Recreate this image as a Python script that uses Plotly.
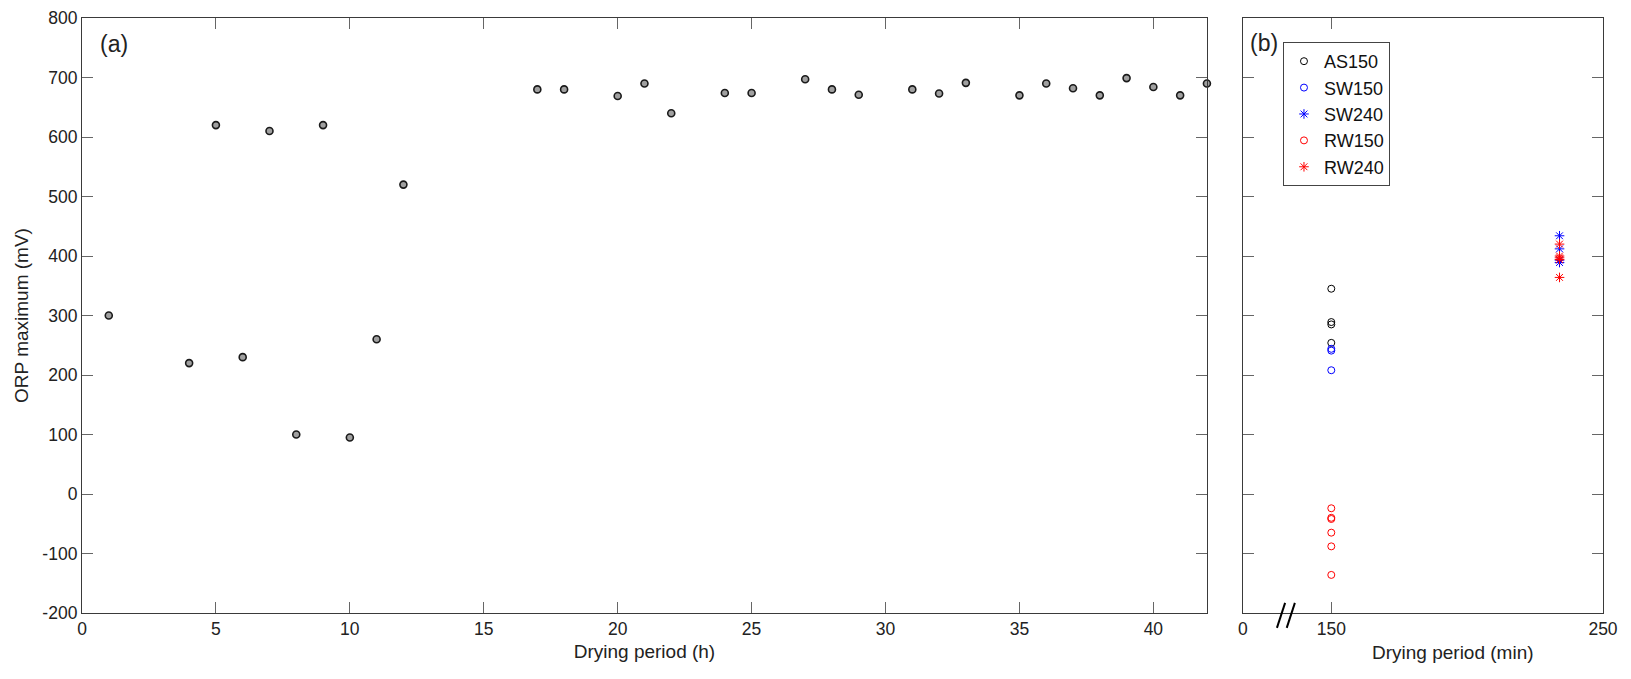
import plotly.graph_objects as go

# (a) ORP maximum against drying period in hours
hours = [1, 4, 5, 6, 7, 8, 9, 10, 11, 12, 17, 18, 20, 21, 22, 24, 25, 27, 28, 29,
         31, 32, 33, 35, 36, 37, 38, 39, 40, 41, 42]
orp_max = [300, 220, 620, 230, 610, 100, 620, 95, 260, 520, 680, 680, 669, 690, 640,
           674, 674, 697, 680, 671, 680, 673, 691, 670, 690, 682, 670, 699, 684, 670, 690]

# (b) ORP maximum for the short drying periods (min)
x_150 = 150
x_240 = 234   # plotted position
as150 = [345, 289, 285, 254]
sw150 = [244, 241, 208]
sw240 = [434, 412, 393, 389]
rw150 = [-24, -40, -42, -65, -88, -136]
rw240 = [420, 400, 397, 394, 364]

y_ticks = [-200, -100, 0, 100, 200, 300, 400, 500, 600, 700, 800]
x2_range = [117.5, 250]
x2_ticks = [117.5, 150, 250]
x2_labels = ["0", "150", "250"]

fig = go.Figure()

fig.add_trace(go.Scatter(
    x=hours, y=orp_max, mode="markers", showlegend=False, cliponaxis=False,
    marker=dict(symbol="circle", size=7, color="#a0a0a0",
                line=dict(color="#1a1a1a", width=1.6)),
    xaxis="x", yaxis="y"))

series = [
    ("AS150", x_150, as150, "circle-open", "#000000", 7),
    ("SW150", x_150, sw150, "circle-open", "#0000ff", 7),
    ("SW240", x_240, sw240, "asterisk-open", "#0000ff", 8),
    ("RW150", x_150, rw150, "circle-open", "#ff0000", 7),
    ("RW240", x_240, rw240, "asterisk-open", "#ff0000", 8),
]
for name, xv, yv, sym, col, sz in series:
    fig.add_trace(go.Scatter(
        x=[xv] * len(yv), y=yv, mode="markers", name=name, cliponaxis=False,
        marker=dict(symbol=sym, size=sz, color=col, line=dict(color=col, width=1)),
        xaxis="x2", yaxis="y2"))

axis_common = dict(showline=True, linecolor="#3a3a3a", linewidth=1.2,
                   ticks="inside", ticklen=11, tickcolor="#666", tickwidth=1,
                   mirror="ticks", showgrid=False, zeroline=False, automargin=False,
                   tickfont=dict(size=17.5, color="#222"))

fig.update_layout(
    width=1631, height=679,
    margin=dict(l=82, r=28, t=18, b=66),
    plot_bgcolor="white", paper_bgcolor="white",
    font=dict(family="Liberation Sans, Arial, sans-serif", size=17, color="#222"),
    xaxis=dict(domain=[0, 0.7396], range=[0, 42], tickvals=list(range(0, 41, 5)),
               anchor="y", title=dict(text="Drying period (h)", font=dict(size=19), standoff=6),
               **axis_common),
    yaxis=dict(domain=[0, 1], range=[-200, 800], tickvals=y_ticks,
               ticktext=[str(v) for v in y_ticks], anchor="x",
               title=dict(text="ORP maximum (mV)", font=dict(size=19), standoff=8),
               **axis_common),
    xaxis2=dict(domain=[0.7633, 1], range=x2_range, tickvals=x2_ticks, ticktext=x2_labels,
                anchor="y2", **axis_common),
    yaxis2=dict(domain=[0, 1], range=[-200, 800], tickvals=y_ticks, anchor="x2",
                showticklabels=False, **axis_common),
    legend=dict(x=0.7896, y=0.9597, xanchor="left", yanchor="top",
                bordercolor="#444", borderwidth=1, bgcolor="white",
                font=dict(size=18, color="#111"), itemwidth=30, tracegroupgap=0),
)

fig.add_annotation(text="Drying period (min)", xref="paper", yref="paper",
                   x=0.9014, y=-0.067, xanchor="center", yanchor="middle",
                   showarrow=False, font=dict(size=19))
fig.add_annotation(text="(a)", xref="paper", yref="paper", x=0.0105, y=0.956,
                   xanchor="left", yanchor="middle", showarrow=False, font=dict(size=23))
fig.add_annotation(text="(b)", xref="paper", yref="paper", x=0.7666, y=0.958,
                   xanchor="left", yanchor="middle", showarrow=False, font=dict(size=23))

# axis break marks on panel (b)
for x0 in (130, 133.6):
    fig.add_shape(type="line", xref="x2", yref="paper", x0=x0, x1=x0 + 3,
                  y0=-0.025, y1=0.017, line=dict(color="black", width=2))

# drop the page's default body margin so the figure sits at the window origin
fig.write_html("out.html", config={"displayModeBar": False},
               post_script="document.body.style.margin='0';")
